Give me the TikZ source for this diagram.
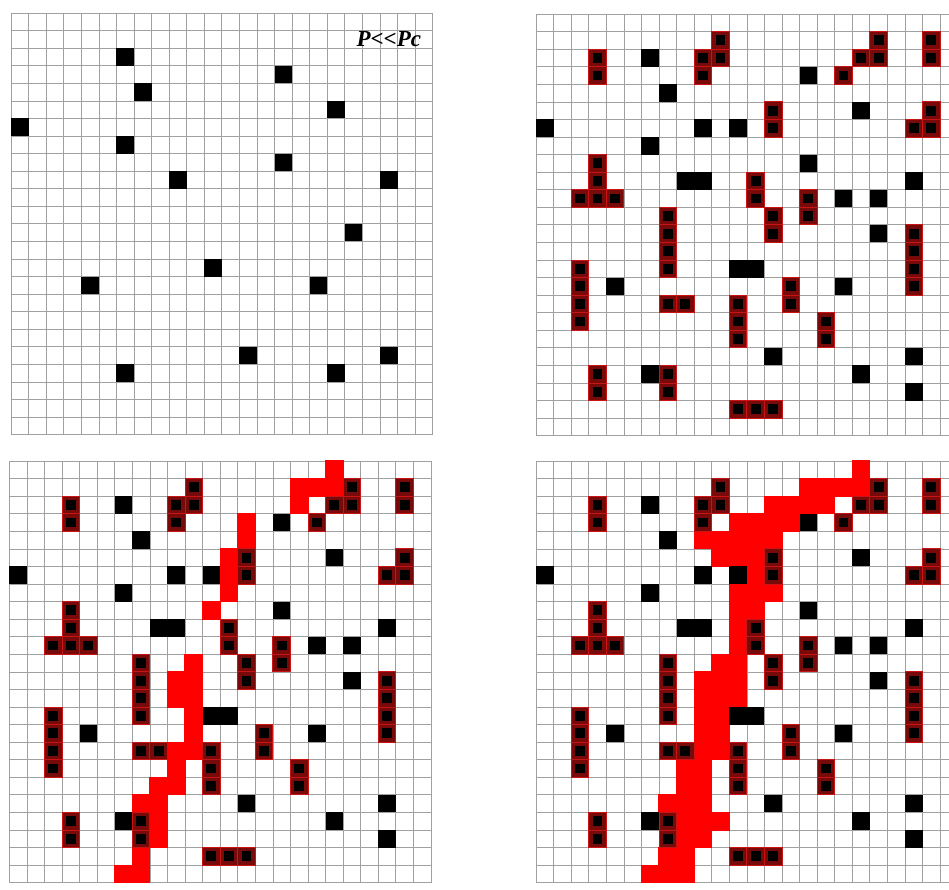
\documentclass[tikz,border=0pt]{standalone}
\usepackage{fontspec}
\setmainfont{Liberation Serif}
\definecolor{cellred}{RGB}{120,10,10}
\definecolor{celledge}{RGB}{200,20,20}
\definecolor{gridgray}{RGB}{160,160,160}
\tikzset{
  gridln/.style={draw=gridgray, line width=0.7pt},
  blackcell/.style={fill=black},
  hotcell/.style={fill=red},
  darkcell/.style={fill=cellred, draw=celledge, line width=0.9pt},
  corecell/.style={fill=black},
  cellunits/.style={x=17.57pt, y=-17.57pt}
}
\newcommand\blacksA{6/2,15/3,7/4,18/5,0/6,6/7,15/8,9/9,21/9,19/12,11/14,4/15,17/15,13/19,21/19,6/20,18/20}
\newcommand\blacksB{6/2,7/4,15/3,18/5,0/6,9/6,11/6,6/7,15/8,8/9,9/9,21/9,17/10,19/10,19/12,11/14,12/14,4/15,17/15,13/19,21/19,6/20,18/20,21/21}
\newcommand\darksB{3/2,3/3,9/2,9/3,10/1,10/2,17/3,18/2,19/1,19/2,22/1,22/2,13/5,13/6,21/6,22/5,22/6,3/8,3/9,3/10,2/10,4/10,12/9,12/10,13/11,13/12,15/10,15/11,7/11,7/12,7/13,7/14,21/12,21/13,21/14,21/15,2/14,2/15,2/16,2/17,14/15,14/16,7/16,8/16,11/16,11/17,11/18,16/17,16/18,3/20,3/21,7/20,7/21,11/22,12/22,13/22}
\newcommand\hotC{18/0,16/1,17/1,18/1,16/2,13/3,13/4,12/5,12/6,12/7,11/8,10/11,9/12,10/12,9/13,10/13,10/14,10/15,9/16,10/16,9/17,8/18,9/18,7/19,8/19,8/20,8/21,7/22,6/23,7/23}
\newcommand\hotD{18/0,15/1,16/1,17/1,18/1,13/2,14/2,15/2,16/2,11/3,12/3,13/3,14/3,9/4,10/4,11/4,12/4,13/4,10/5,11/5,12/5,12/6,11/7,12/7,13/7,11/8,12/8,11/9,11/10,10/11,11/11,9/12,10/12,11/12,9/13,10/13,11/13,9/14,10/14,9/15,10/15,9/16,10/16,8/17,9/17,8/18,9/18,7/19,8/19,9/19,8/20,9/20,10/20,8/21,9/21,7/22,8/22,6/23,7/23,8/23}
\newcommand\drawgridcells{\foreach \i in {0,...,24} {\draw[gridln] (\i,0) -- (\i,24); \draw[gridln] (0,\i) -- (24,\i);}}
\newcommand\drawhot[1]{\foreach \c/\r in #1 {\fill[hotcell] (\c-0.03,\r-0.03) rectangle ++(1.06,1.06);}}
\newcommand\drawblacks[1]{\foreach \c/\r in #1 {\fill[blackcell] (\c,\r) rectangle ++(1,1);}}
\newcommand\drawdarks{\foreach \c/\r in \darksB {\filldraw[darkcell] (\c,\r) rectangle ++(1,1); \fill[corecell] (\c+0.22,\r+0.22) rectangle ++(0.56,0.56);}}
\begin{document}
\begin{tikzpicture}[x=1pt,y=-1pt]
\useasboundingbox (0,0) rectangle (949,889);
\clip (0,0) rectangle (949,889);
\fill[white] (0,0) rectangle (949,889);
% panel 1
\begin{scope}[shift={(11,13)}]
\begin{scope}[cellunits]
\drawgridcells
\drawblacks{\blacksA}
\node[font=\fontsize{23}{25}\selectfont\bfseries\itshape] (plabel) at (21.5,1.5) {P<\kern0pt<\kern0pt Pc};
\end{scope}
\end{scope}
% panel 2
\begin{scope}[shift={(536,14)}]
\begin{scope}[cellunits]
\drawgridcells
\drawblacks{\blacksB}
\drawdarks
\end{scope}
\end{scope}
% panel 3
\begin{scope}[shift={(9.3,461)}]
\begin{scope}[cellunits]
\drawgridcells
\drawhot{\hotC}
\drawblacks{\blacksB}
\drawdarks
\end{scope}
\end{scope}
% panel 4
\begin{scope}[shift={(536,461)}]
\begin{scope}[cellunits]
\drawgridcells
\drawhot{\hotD}
\drawblacks{\blacksB}
\drawdarks
\end{scope}
\end{scope}
\end{tikzpicture}
\end{document}
